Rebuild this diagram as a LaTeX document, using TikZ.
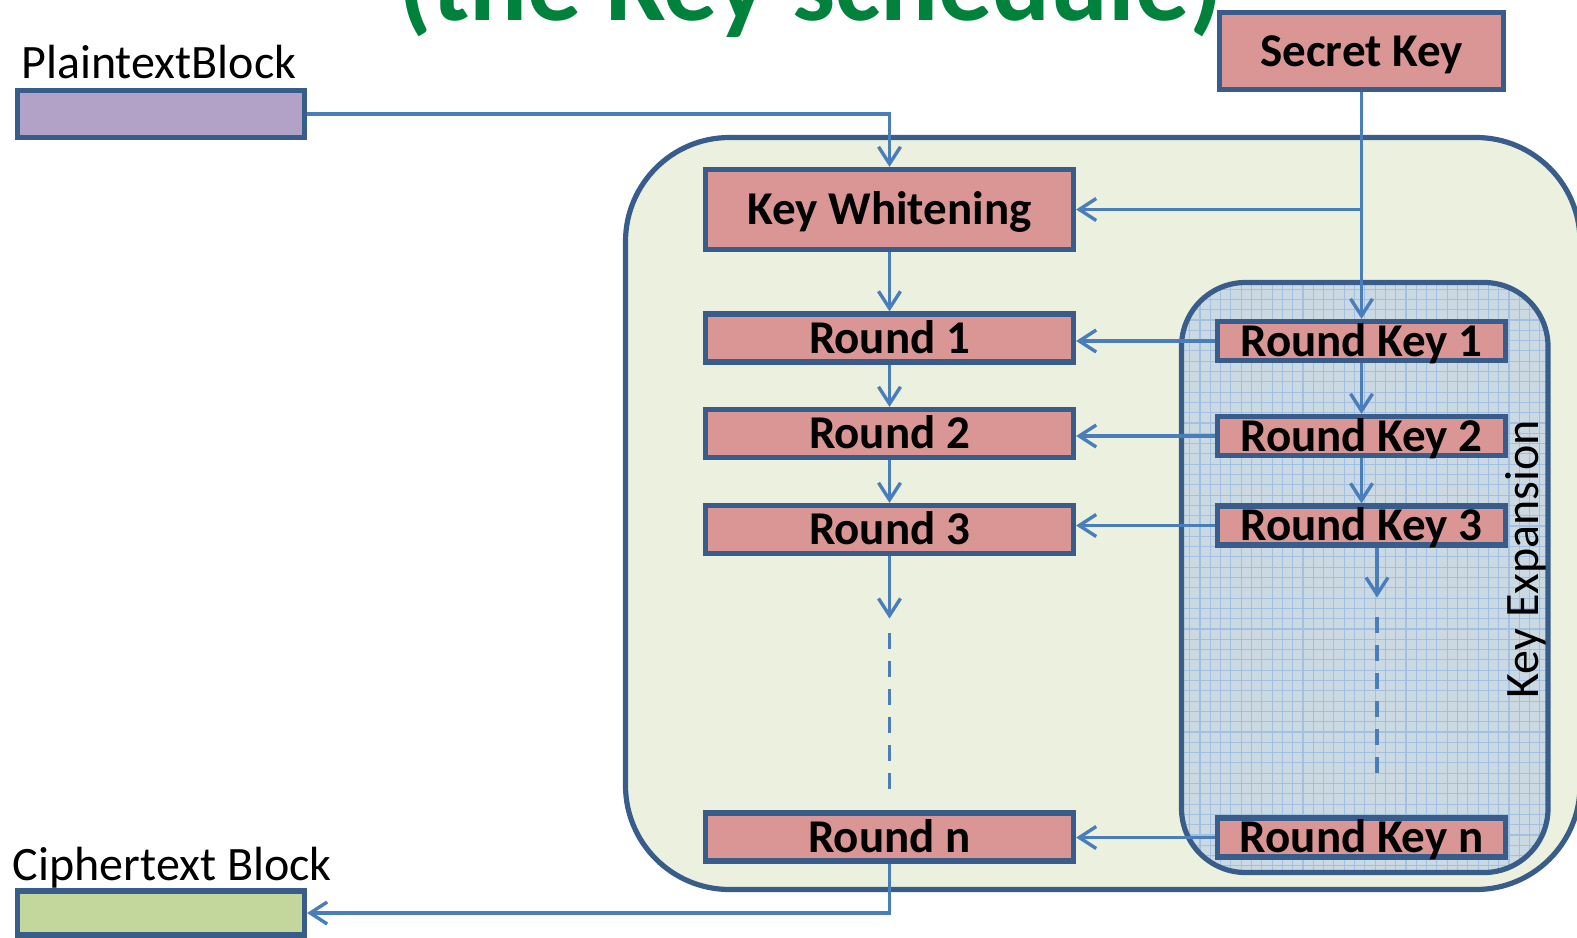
\documentclass[tikz,border=0pt]{standalone}
\usepackage{fontspec}
\setmainfont{Carlito}
\usetikzlibrary{arrows.meta}

\definecolor{edgeblue}{RGB}{56,93,138}
\definecolor{linkblue}{RGB}{74,126,187}
\definecolor{boxred}{RGB}{217,150,148}
\definecolor{plainpurple}{RGB}{179,162,199}
\definecolor{ciphergreen}{RGB}{195,214,155}
\definecolor{panelgreen}{RGB}{235,241,222}
\definecolor{panelblue}{RGB}{203,217,226}
\definecolor{gridblue}{RGB}{163,192,226}
\definecolor{titlegreen}{RGB}{0,130,60}

\begin{document}
\begin{tikzpicture}[x=0.5pt,y=-0.5pt,
  labelfont/.style={font=\fontsize{24}{29}\selectfont},
  box/.style={draw=edgeblue, line width=2.6pt, fill=boxred, inner sep=0pt,
    text height=15pt, text depth=0pt,
    font=\fontsize{23.5}{28}\selectfont\bfseries},
  roundbox/.style={box, minimum width=184pt, minimum height=24pt},
  keybox/.style={box, minimum width=144pt, minimum height=19.5pt},
  datablock/.style={draw=edgeblue, line width=2.6pt, inner sep=0pt,
    minimum width=143.5pt},
  panel/.style={draw=edgeblue, line width=2.6pt, inner sep=0pt},
  conn/.style={draw=linkblue, line width=1.7pt,
    -{Straight Barb[length=8.5pt,width=11pt]}},
  dots/.style={draw=linkblue, line width=1.7pt, dash pattern=on 8pt off 6pt},
]
\path[use as bounding box] (0,0) rectangle (1577,937);
\clip (0,0) rectangle (1577,937);

% heading, partly above the page
\node[anchor=base, inner sep=0pt, text=titlegreen,
      font=\fontsize{54}{64}\selectfont\bfseries] (heading) at (811,20)
      {(the Key schedule)};

% input and output blocks
\node[labelfont, anchor=base west, inner sep=0pt] (ptlabel) at (21,78) {PlaintextBlock};
\node[datablock, fill=plainpurple, minimum height=23.5pt] (pt) at (161,114) {};
\node[labelfont, anchor=base west, inner sep=0pt] (ctlabel) at (12.5,880) {Ciphertext Block};
\node[datablock, fill=ciphergreen, minimum height=22pt] (ct) at (161,913) {};

% cipher panel
\node[panel, fill=panelgreen, rounded corners=52pt,
      minimum width=477.25pt, minimum height=376pt] (core) at (1102.75,513.5) {};

% key expansion panel with its grid texture
\node[panel, fill=panelblue, rounded corners=32pt,
      minimum width=183.25pt, minimum height=295pt,
      path picture={\draw[gridblue, line width=0.55pt]
        (path picture bounding box.south west) grid[step=5.15pt]
        (path picture bounding box.north east);}] (kexp) at (1364.75,577.5) {};
\node[labelfont, rotate=90, anchor=base, inner sep=0pt] (kexplabel) at (1538,559) {Key Expansion};

% secret key
\node[box, minimum width=142.25pt, minimum height=38.5pt] (sk) at (1361.5,51) {Secret Key};

% round pipeline
\node[box, minimum width=184pt, minimum height=40pt] (kw) at (889.5,209.5) {Key Whitening};
\node[roundbox] (r1) at (889.5,338) {Round 1};
\node[roundbox] (r2) at (889.5,433.5) {Round 2};
\node[roundbox] (r3) at (889.5,529.5) {Round 3};
\node[roundbox] (rn) at (889.5,837) {Round n};

% round keys
\node[keybox] (rk1) at (1361.5,341) {Round Key 1};
\node[keybox] (rk2) at (1361.5,436) {Round Key 2};
\node[keybox] (rk3) at (1361.5,525.5) {Round Key 3};
\node[keybox] (rkn) at (1361.5,837.5) {Round Key n};

% data path
\draw[conn] (pt.east) -| (kw.north);
\draw[conn] (kw.south) -- (r1.north);
\draw[conn] (r1.south) -- (r2.north);
\draw[conn] (r2.south) -- (r3.north);
\draw[conn] (r3.south) -- ++(0,62.5);
\coordinate (gapA) at (889.5,633);
\coordinate (gapB) at (889.5,789);
\draw[dots] (gapA) -- (gapB);
\draw[conn] (rn.south) |- (ct.east);

% key path
\coordinate (tap) at (sk.south |- kw.east);
\draw[conn] (sk.south) -- (rk1.north);
\draw[conn] (tap) -- (kw.east);
\draw[conn] (rk1.south) -- (rk2.north);
\draw[conn] (rk2.south) -- (rk3.north);
\draw[conn] ([xshift=7.75pt]rk3.south) -- ++(0,50);
\coordinate (kgapA) at (1377,617);
\coordinate (kgapB) at (1377,773);
\draw[dots] (kgapA) -- (kgapB);

% round keys feed the rounds
\draw[conn] (rk1.west) -- (rk1.west -| r1.east);
\draw[conn] (rk2.west) -- (rk2.west -| r2.east);
\draw[conn] (rk3.west) -- (rk3.west -| r3.east);
\draw[conn] (rkn.west) -- (rkn.west -| rn.east);
\end{tikzpicture}
\end{document}
